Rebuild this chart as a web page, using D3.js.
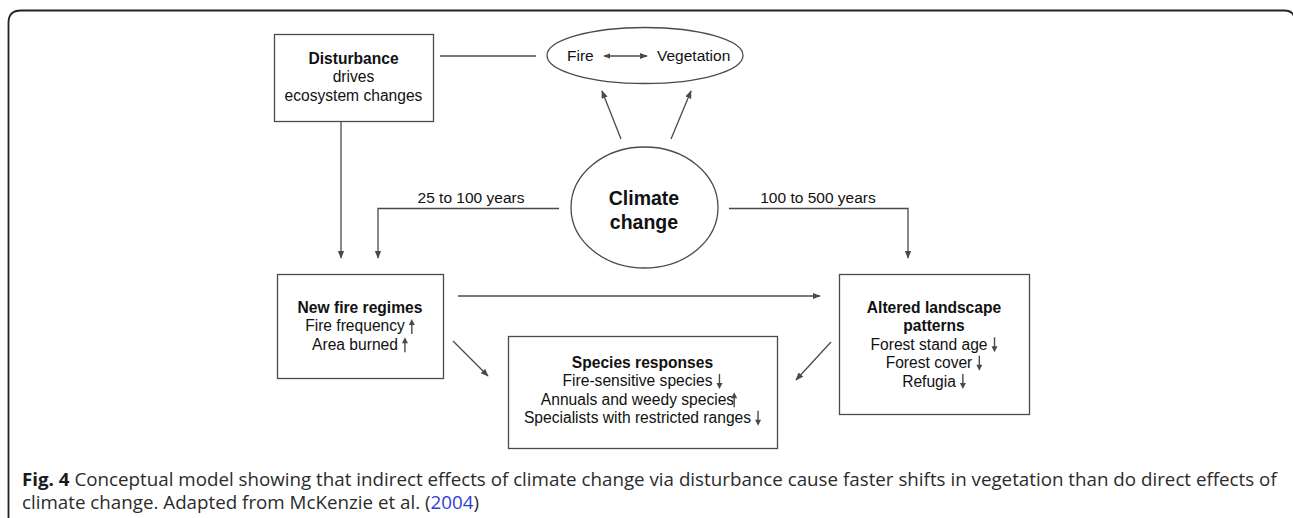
<!DOCTYPE html>
<html>
<head>
<meta charset="utf-8">
<script src="https://cdn.jsdelivr.net/npm/d3@7"></script>
<style>
  html, body { margin: 0; padding: 0; background: #fff; }
  svg { display: block; }
</style>
</head>
<body>
<svg id="chart" width="1293" height="518"></svg>
<script>
// node texts (titles bold, then plain lines with optional trend arrow)
var nodeIds = ['dist', 'fire', 'land', 'spec'];
var nodeTitles = {
    dist: ['Disturbance'],
    fire: ['New fire regimes'],
    land: ['Altered landscape', 'patterns'],
    spec: ['Species responses']
};
var nodeLines = {
    dist: ['drives', 'ecosystem changes'],
    fire: ['Fire frequency', 'Area burned'],
    land: ['Forest stand age', 'Forest cover', 'Refugia'],
    spec: ['Fire-sensitive species', 'Annuals and weedy species', 'Specialists with restricted ranges']
};
var nodeTrends = {
    dist: [null, null],
    fire: ['up', 'up'],
    land: ['down', 'down', 'down'],
    spec: ['down', 'up', 'down']
};
var climateLabel = ['Climate', 'change'];
var ellipseLabels = ['Fire', 'Vegetation'];
var timeLabels = ['25 to 100 years', '100 to 500 years'];
var captionBold = 'Fig. 4';
var captionLine1 = ' Conceptual model showing that indirect effects of climate change via disturbance cause faster shifts in vegetation than do direct effects of';
var captionLine2 = 'climate change. Adapted from McKenzie et al. (';
var captionRef = '2004';

// layout
var boxes = {
    dist: {x0: 274, y0: 34, x1: 433, y1: 121, y: 64},
    fire: {x0: 277, y0: 274, x1: 443, y1: 378, y: 313},
    land: {x0: 839, y0: 274, x1: 1029, y1: 414, y: 313},
    spec: {x0: 508, y0: 336, x1: 777, y1: 448, y: 368}
};
var arrowNudge = {spec: [0, -7, 0]};
var lineGap = 18.4;
var boxFont = 15.6;

var edges = [
    {pts: [[341, 122], [341, 258]], head: true},
    {pts: [[440, 56], [536, 56]], head: false},
    {pts: [[621, 139], [602, 91]], head: true},
    {pts: [[671, 139], [691, 91]], head: true},
    {pts: [[559, 208.5], [378, 208.5], [378, 258]], head: true},
    {pts: [[729, 208.5], [908, 208.5], [908, 258]], head: true},
    {pts: [[458, 296], [820, 296]], head: true},
    {pts: [[453, 341], [488, 376]], head: true},
    {pts: [[831, 342], [796, 380]], head: true}
];

var svg = d3.select('#chart');
var ink = '#4a4a4a';
var txt = '#111';
var font = 'Liberation Sans, Arial, sans-serif';

// outer frame
svg.append('path')
    .attr('d', 'M 8.5 530 L 8.5 23 Q 8.5 10.5 21 10.5 L 1284 10.5 Q 1292 10.5 1294 16')
    .attr('fill', 'none')
    .attr('stroke', '#222')
    .attr('stroke-width', 1.8);

var defs = svg.append('defs');
defs.append('marker')
    .attr('id', 'head')
    .attr('viewBox', '0 0 10 10')
    .attr('refX', 9).attr('refY', 5)
    .attr('markerWidth', 8).attr('markerHeight', 8)
    .attr('markerUnits', 'userSpaceOnUse')
    .attr('orient', 'auto')
    .append('path')
    .attr('d', 'M 0 1 L 10 5 L 0 9 z')
    .attr('fill', ink);
defs.append('marker')
    .attr('id', 'tail')
    .attr('viewBox', '0 0 10 10')
    .attr('refX', 1).attr('refY', 5)
    .attr('markerWidth', 7).attr('markerHeight', 7)
    .attr('markerUnits', 'userSpaceOnUse')
    .attr('orient', 'auto')
    .append('path')
    .attr('d', 'M 10 1 L 0 5 L 10 9 z')
    .attr('fill', ink);

var line = d3.line();
svg.append('g').selectAll('path')
    .data(edges)
    .join('path')
    .attr('d', function(d) { return line(d.pts); })
    .attr('fill', 'none')
    .attr('stroke', ink)
    .attr('stroke-width', 1.3)
    .attr('marker-end', function(d) { return d.head ? 'url(#head)' : null; });

// ellipse Fire <-> Vegetation
svg.append('ellipse')
    .attr('cx', 645).attr('cy', 55.5).attr('rx', 98).attr('ry', 28)
    .attr('fill', 'none').attr('stroke', ink).attr('stroke-width', 1.3);
svg.append('text')
    .attr('x', 567).attr('y', 61)
    .attr('font-family', font).attr('font-size', 15.5).attr('fill', txt)
    .text(ellipseLabels[0]);
svg.append('text')
    .attr('x', 657).attr('y', 61)
    .attr('font-family', font).attr('font-size', 15.5).attr('fill', txt)
    .text(ellipseLabels[1]);
svg.append('path')
    .attr('d', 'M 604 56 L 647 56')
    .attr('stroke', ink).attr('stroke-width', 1.3)
    .attr('marker-start', 'url(#tail)')
    .attr('marker-end', 'url(#head)');

// climate change circle
svg.append('ellipse')
    .attr('cx', 644.5).attr('cy', 207.5).attr('rx', 73.5).attr('ry', 60.5)
    .attr('fill', 'none').attr('stroke', ink).attr('stroke-width', 1.3);
svg.selectAll('text.climate')
    .data(climateLabel)
    .join('text')
    .attr('class', 'climate')
    .attr('x', 644).attr('y', function(d, i) { return 205 + i * 24; })
    .attr('text-anchor', 'middle')
    .attr('font-family', font).attr('font-size', 19.5).attr('font-weight', 'bold')
    .attr('fill', txt)
    .text(function(d) { return d; });

// time labels
svg.append('text')
    .attr('x', 471).attr('y', 203).attr('text-anchor', 'middle')
    .attr('font-family', font).attr('font-size', 15.5).attr('fill', txt)
    .text(timeLabels[0]);
svg.append('text')
    .attr('x', 818).attr('y', 203).attr('text-anchor', 'middle')
    .attr('font-family', font).attr('font-size', 15.5).attr('fill', txt)
    .text(timeLabels[1]);

// trend arrow glyph
function trend(g, x, y, dir) {
    // y is the text baseline
    var top = y - 12.5, bot = y + 2.5;
    var a = g.append('g');
    a.append('line')
        .attr('x1', x).attr('x2', x)
        .attr('y1', dir === 'up' ? top + 3 : top)
        .attr('y2', dir === 'up' ? bot : bot - 3)
        .attr('stroke', ink).attr('stroke-width', 1.4);
    var tip = dir === 'up' ? top : bot;
    var base = dir === 'up' ? top + 6 : bot - 6;
    a.append('path')
        .attr('d', 'M ' + (x - 3) + ' ' + base + ' L ' + x + ' ' + tip + ' L ' + (x + 3) + ' ' + base + ' z')
        .attr('fill', ink);
}

// boxes
nodeIds.forEach(function(id) {
    var b = boxes[id];
    var g = svg.append('g');
    var cx = (b.x0 + b.x1) / 2;
    g.append('rect')
        .attr('x', b.x0 + 0.5).attr('y', b.y0 + 0.5)
        .attr('width', b.x1 - b.x0).attr('height', b.y1 - b.y0)
        .attr('fill', 'none').attr('stroke', ink).attr('stroke-width', 1.3);
    var row = 0;
    nodeTitles[id].forEach(function(t) {
        g.append('text')
            .attr('x', cx).attr('y', b.y + row * lineGap)
            .attr('text-anchor', 'middle')
            .attr('font-family', font).attr('font-size', boxFont).attr('font-weight', 'bold')
            .attr('fill', txt)
            .text(t);
        row++;
    });
    nodeLines[id].forEach(function(t, i) {
        var y = b.y + row * lineGap;
        var el = g.append('text')
            .attr('y', y)
            .attr('font-family', font).attr('font-size', boxFont)
            .attr('fill', txt)
            .text(t);
        var w = el.node().getComputedTextLength();
        var dir = nodeTrends[id][i];
        var extra = dir ? 10 : 0;
        var x = cx - (w + extra) / 2;
        el.attr('x', x);
        if (dir) {
            var nudge = arrowNudge[id] ? arrowNudge[id][i] : 0;
            trend(g, x + w + 7 + nudge, y, dir);
        }
        row++;
    });
});

// caption
var capFont = 'Open Sans, sans-serif';
var cap1 = svg.append('text')
    .attr('x', 22).attr('y', 486)
    .attr('font-family', capFont).attr('font-size', 18).attr('fill', '#2b2b2b');
cap1.append('tspan').attr('font-weight', 'bold').attr('fill', '#1a1a1a').text(captionBold);
cap1.append('tspan').text(captionLine1);
var cap2 = svg.append('text')
    .attr('x', 22).attr('y', 509)
    .attr('font-family', capFont).attr('font-size', 18).attr('fill', '#2b2b2b');
cap2.append('tspan').text(captionLine2);
cap2.append('tspan').attr('fill', '#2a3fd6').text(captionRef);
cap2.append('tspan').text(')');

var w1 = cap1.node().getComputedTextLength();
var sx = 1256 / w1;
[cap1, cap2].forEach(function(c) {
    var y = +c.attr('y');
    c.attr('transform', 'translate(22,' + y + ') scale(' + sx + ',1) translate(-22,' + (-y) + ')');
});
</script>
</body>
</html>
